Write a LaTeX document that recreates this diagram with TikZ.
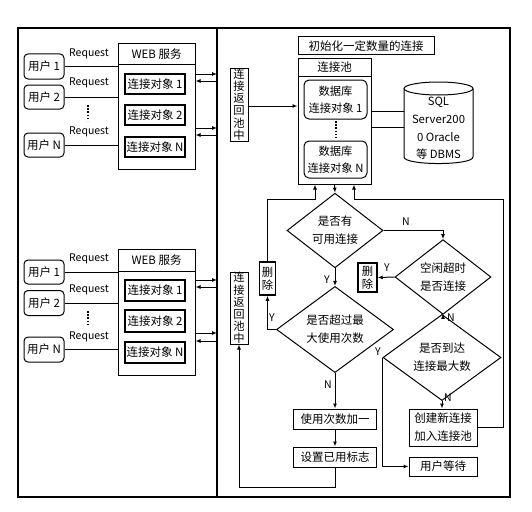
\documentclass[tikz,border=0pt]{standalone}
\usepackage{fontspec}
\setmainfont{Noto Sans CJK SC}
\usetikzlibrary{shapes.geometric,arrows.meta,calc}
\tikzset{
  box/.style={draw, line width=1pt, inner sep=0pt, align=center},
  ubox/.style={box, rounded corners=4pt, minimum width=40pt, minimum height=25pt},
  obox/.style={box, line width=1.5pt, minimum width=60pt, minimum height=20pt},
  vbox/.style={box, minimum width=18pt, font=\fontsize{11.3}{12.2}\selectfont},
  dbox/.style={box, line width=1.5pt, font=\fontsize{11.3}{13}\selectfont},
  dia/.style={draw, diamond, line width=1pt, inner sep=0pt, align=center, font=\fontsize{11.5}{18}\selectfont},
  lbl/.style={inner sep=0pt, font=\fontsize{10.5}{12}\selectfont},
  arr/.style={-{Latex[length=5pt,width=4pt]}, line width=1pt},
  ln/.style={line width=1pt},
  dots/.style={line width=1.1pt, dash pattern=on 1.6pt off 1.6pt},
}
\begin{document}
\begin{tikzpicture}[x=1pt, y=-1pt, font=\fontsize{11.5}{13}\selectfont]
\useasboundingbox (0,0) rectangle (532,511);
% frame
\draw[line width=1.3pt] (18,28) rectangle (510,497);
\coordinate (dv) at (217,28);
\draw[line width=1.3pt] (dv) -- (217,497);

% ---------- upper group ----------
\node[ubox] (u11) at (44,66.5) {用户 1};
\node[ubox, minimum height=24pt] (u12) at (44,97) {用户 2};
\node[ubox, minimum height=24pt] (u1n) at (44,145) {用户 N};
\node[lbl] (r11) at (89,54) {Request};
\node[lbl] (r12) at (89,83) {Request};
\node[lbl] (r1n) at (89,132) {Request};
\node[box, minimum width=77pt, minimum height=125pt] (web1) at (156.5,106.5) {};
\node[box, minimum width=77pt, minimum height=20pt] (h1) at (156.5,54) {WEB 服务};
\node[obox] (c11) at (155,84) {连接对象 1};
\node[obox] (c12) at (155,115) {连接对象 2};
\node[obox] (c1n) at (155,147) {连接对象 N};
\draw[ln] (u11.east) -- (u11.east -| web1.west);
\draw[ln] (u12.east) -- (u12.east -| web1.west);
\draw[ln] (u1n.east) -- (u1n.east -| web1.west);
\draw[dots] (88,105) -- (88,121);
\draw[arr] (web1.east |- 0,74) -- (dv |- 0,74);
\draw[arr] (dv |- 0,81) -- (web1.east |- 0,81);
\draw[arr] (web1.east |- 0,128) -- (dv |- 0,128);
\draw[arr] (dv |- 0,135) -- (web1.east |- 0,135);

% ---------- lower group ----------
\node[ubox, minimum height=24pt] (u21) at (44,272) {用户 1};
\node[ubox] (u22) at (44,303) {用户 2};
\node[ubox] (u2n) at (44,349.5) {用户 N};
\node[lbl] (r21) at (89,259) {Request};
\node[lbl] (r22) at (89,290) {Request};
\node[lbl] (r2n) at (89,337) {Request};
\node[box, minimum width=77pt, minimum height=126pt] (web2) at (156.5,312) {};
\node[box, minimum width=77pt, minimum height=22pt] (h2) at (156.5,260) {WEB 服务};
\node[obox, minimum height=21pt] (c21) at (155,290.5) {连接对象 1};
\node[obox, minimum height=22pt] (c22) at (155,321) {连接对象 2};
\node[obox, minimum height=21pt] (c2n) at (155,352.5) {连接对象 N};
\draw[ln] (u21.east) -- (u21.east -| web2.west);
\draw[ln] (u22.east) -- (u22.east -| web2.west);
\draw[ln] (u2n.east) -- (u2n.east -| web2.west);
\draw[dots] (88,311) -- (88,326);
\draw[arr] (web2.east |- 0,280) -- (dv |- 0,280);
\draw[arr] (dv |- 0,287) -- (web2.east |- 0,287);
\draw[arr] (web2.east |- 0,333) -- (dv |- 0,333);
\draw[arr] (dv |- 0,341) -- (web2.east |- 0,341);

% ---------- pool ----------
\node[vbox, minimum height=73pt] (ret1) at (239,104.5) {连\\接\\返\\回\\池\\中};
\node[vbox, minimum height=72pt] (ret2) at (239,308) {连\\接\\返\\回\\池\\中};
\node[box, minimum width=136pt, minimum height=18pt] (init) at (366,46) {初始化一定数量的连接};
\node[box, minimum width=73pt, minimum height=126pt] (pool) at (334.5,121) {};
\node[box, minimum width=73pt, minimum height=18pt] (ph) at (334.5,67) {连接池};
\node[box, rounded corners=5pt, minimum width=63pt, minimum height=39pt, font=\fontsize{11.3}{17}\selectfont] (db1) at (335.5,99.5) {数据库\\连接对象 1};
\node[box, rounded corners=5pt, minimum width=63pt, minimum height=37pt, font=\fontsize{11.3}{17}\selectfont] (dbn) at (335.5,159.5) {数据库\\连接对象 N};
\draw[dots] (336,121) -- (336,138);
\node[inner sep=0pt, align=center, minimum width=69pt, minimum height=81pt, font=\fontsize{11.3}{17.7}\selectfont] (db) at (438.5,128.5) {SQL\\Server200\\0 Oracle\\等 DBMS};
\draw[ln] (438.5,88.5) ellipse [x radius=34.5pt, y radius=6.5pt];
\draw[ln] (404,88.5) -- (404,157) .. controls (404,165.7) and (473,165.7) .. (473,157) -- (473,88.5);
\draw[arr] (ret1.east |- 0,106) -- (pool.west |- 0,106);
\draw[ln] (pool.east |- 0,111) -- (404,111);
\draw[ln] (pool.east |- 0,127) -- (404,127);

% ---------- flowchart ----------
\node[dia, minimum width=96pt, minimum height=63pt] (d1) at (335,230.5) {是否有\\可用连接};
\node[dia, minimum width=96pt, minimum height=62pt] (d2) at (443,277) {空闲超时\\是否连接};
\node[dia, minimum width=117pt, minimum height=63pt] (d3) at (335,329.5) {是否超过最\\大使用次数};
\node[dia, minimum width=118pt, minimum height=61pt] (d4) at (442,357.5) {是否到达\\连接最大数};
\node[dbox, minimum width=16pt, minimum height=33pt] (del1) at (267.5,278.5) {删\\除};
\node[dbox, minimum width=19pt, minimum height=29pt] (del2) at (367.5,277.5) {删\\除};
\node[box, minimum width=83pt, minimum height=20pt] (inc) at (335,419) {使用次数加一};
\node[box, minimum width=83pt, minimum height=20pt] (flag) at (335,457) {设置已用标志};
\node[box, minimum width=68pt, minimum height=37pt, font=\fontsize{11.5}{18}\selectfont] (create) at (443,427.5) {创建新连接\\加入连接池};
\node[box, minimum width=68pt, minimum height=19pt] (wait) at (443,466.5) {用户等待};

\coordinate (pl) at ($(pool.south)+(-19.5,0)$);
\coordinate (pr) at ($(pool.south)+(19.5,0)$);
\coordinate (rr) at (503,199);
\draw[arr] (del1.north) |- (pl |- rr) -- (pl);
\draw[arr] (pool.south) -- (d1.north);
\draw[arr] (create.east) -| (rr) -- (pr |- rr) -- (pr);
\draw[arr] (d1.east) -| (d2.north);
\draw[arr] (d1.south) -- (d3.north);
\draw[arr] (d2.west) -- (del2.east);
\draw[arr] (d2.south) -- (d2.south |- d4.north);
\draw[arr] (d3.west) -| (del1.south);
\draw[arr] (d3.south) -- (inc.north);
\draw[arr] (inc.south) -- (flag.north);
\draw[arr] (flag.south) -- ++(0,20) -| (ret2.south);
\draw[arr] (d4.south) -- (d4.south |- create.north);
\draw[arr, line width=1.5pt] (d4.west) |- (wait.west);

\node[lbl] (n1) at (406,222) {N};
\node[lbl] (y1) at (327,280) {Y};
\node[lbl] (y2) at (387,268) {Y};
\node[lbl] (n2) at (451,318) {N};
\node[lbl] (y3) at (272,318) {Y};
\node[lbl] (n3) at (328,385) {N};
\node[lbl] (n4) at (448,398) {N};
\node[lbl] (y4) at (378,352) {Y};
\end{tikzpicture}
\end{document}
